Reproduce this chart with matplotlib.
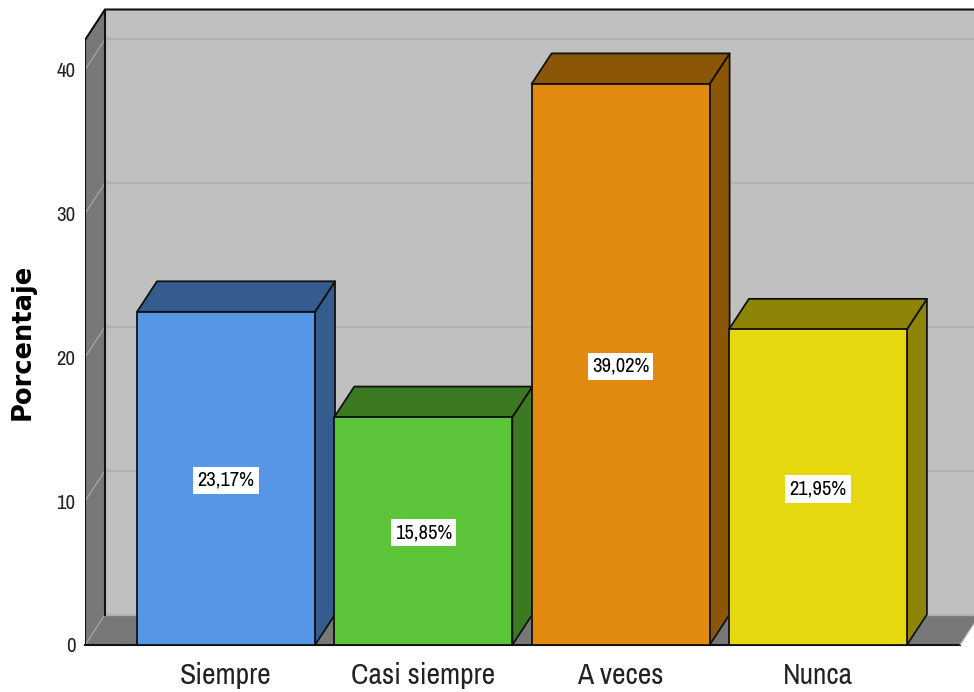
import matplotlib
matplotlib.use("Agg")
import matplotlib.pyplot as plt
from matplotlib.patches import Polygon, Rectangle

categories = ["Siempre", "Casi siempre", "A veces", "Nunca"]
values = [23.17, 15.85, 39.02, 21.95]
labels = ["23,17%", "15,85%", "39,02%", "21,95%"]
yticks = [0, 10, 20, 30, 40]
front_colors = ["#5596E6", "#5CC438", "#E18A0F", "#E5D80F"]
dark_colors = ["#345C8F", "#3B7A23", "#8B5607", "#8E8408"]

W, H = 974, 692
NARROW = ["Archivo Narrow", "Roboto Condensed", "Liberation Sans"]
PX_X = 197.3          # px per category
PX_Y = 14.38          # px per percentage unit
DX = 20 / PX_X        # depth in data units
DY = 30.5 / PX_Y
BW = 178 / PX_X
EDGE = "#111111"
WALL = "#C0C0C0"
SIDE = "#787878"
GRID = "#B2B2B2"
SLANT = "#A5A5A5"

fig = plt.figure(figsize=(W / 100, H / 100), dpi=100, facecolor="white")
ax = fig.add_axes([85 / W, 47 / H, 889 / W, 645 / H])
x0 = -(226 - 85) / PX_X
x1 = x0 + 889 / PX_X
ax.set_xlim(x0, x1)
ax.set_ylim(0, 645 / PX_Y)
ax.patch.set_visible(False)
for s in ax.spines.values():
    s.set_visible(False)

ymax = (645 - 40) / PX_Y
xr = x0 + 875 / PX_X

poly = dict(closed=True, joinstyle="round", clip_on=True)
# back wall
ax.add_patch(Polygon([(x0 + DX, DY), (x1 + 1, DY), (x1 + 1, ymax + DY), (x0 + DX, ymax + DY)],
                     fc=WALL, ec="none", **poly))
# floor
ax.add_patch(Polygon([(x0, 0), (xr, 0), (xr + DX, DY), (x0 + DX, DY)], fc=SIDE, ec="none", **poly))
# left wall
ax.add_patch(Polygon([(x0, 0), (x0 + DX, DY), (x0 + DX, ymax + DY), (x0, ymax)], fc=SIDE, ec="none", **poly))

# gridlines on walls
for t in yticks:
    ax.plot([x0 + DX, x1], [t + DY, t + DY], color=GRID, lw=1.6, zorder=1.5)
    ax.plot([x0, x0 + DX], [t, t + DY], color=SLANT, lw=0.9, zorder=1.5)

# wall and floor outlines
ax.plot([x0, x0, x0 + DX, x1], [0, ymax, ymax + DY, ymax + DY], color=EDGE, lw=1.5, zorder=2,
        solid_joinstyle="round")
ax.plot([x0 + DX, x0 + DX], [DY, ymax + DY], color=EDGE, lw=1.5, zorder=2)
ax.plot([x0, xr], [0, 0], color=EDGE, lw=1.5, zorder=2, clip_on=False)
ax.plot([xr, xr + DX], [0, DY], color="#BBBBBB", lw=0.8, zorder=2)

# 3D bars
for i, (v, lab, fc, dc) in enumerate(zip(values, labels, front_colors, dark_colors)):
    l, r = i - BW / 2, i + BW / 2
    z = 3 + i
    edge = dict(ec=EDGE, lw=1.3, joinstyle="round", zorder=z)
    ax.add_patch(Polygon([(r, 0), (r + DX, DY), (r + DX, v + DY), (r, v)], fc=dc, **edge))
    ax.add_patch(Polygon([(l, v), (r, v), (r + DX, v + DY), (l + DX, v + DY)], fc=dc, **edge))
    ax.add_patch(Rectangle((l, 0), BW, v, fc=fc, **edge))
    ax.text(i, v / 2 - 0.12, lab, ha="center", va="center", family=NARROW, fontsize=14.8,
            color="black", zorder=10,
            bbox=dict(fc="white", ec="none", boxstyle="square,pad=0.2"))

ax.set_xticks(range(len(categories)), categories, family=NARROW, fontsize=21.3)
ax.set_yticks(yticks, [str(t) for t in yticks], family=NARROW, fontsize=15)
ax.tick_params(axis="x", length=0, pad=12, colors="#222222")
ax.tick_params(axis="y", length=0, pad=7, colors="#222222")
fig.text(23 / W, 1 - 342 / H, "Porcentaje", rotation=90, ha="center", va="center",
         family="DejaVu Sans", fontweight="bold", fontsize=18.5, color="black")

fig.savefig("out.png", dpi=100, facecolor="white")
